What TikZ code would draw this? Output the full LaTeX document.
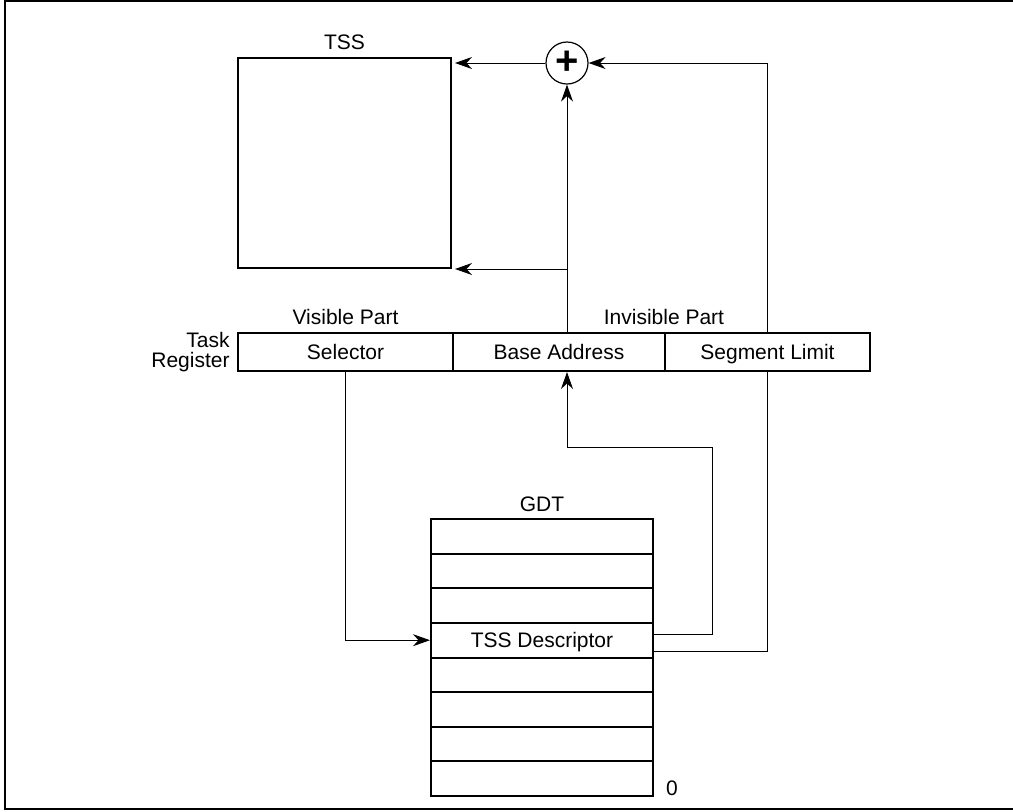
\documentclass[tikz,border=0pt]{standalone}
\usepackage{fontspec}
\setmainfont{Liberation Sans}
\usetikzlibrary{arrows.meta}

\begin{document}
\begin{tikzpicture}[x=0.5pt, y=-0.5pt,
    every node/.style={font=\fontsize{10.5}{12.5}\selectfont, inner sep=0pt},
    caja/.style={draw, line width=1pt, minimum height=19pt, text height=9.2pt, text depth=2.2pt},
    fila/.style={draw, line width=1pt, minimum width=111pt, minimum height=17.3pt, text height=9.2pt, text depth=2.2pt},
    flecha/.style={line width=0.5pt, -{Stealth[length=8.5pt,width=6pt]}},
    linea/.style={line width=0.5pt}]

\useasboundingbox (0,0) rectangle (1013,811);

% Marco
\draw[line width=1pt] (1013,1) -- (5,1) -- (5,809) -- (1013,809);

% TSS y sumador
\node[draw, line width=1pt, minimum width=106.5pt, minimum height=105pt] (tss) at (344.5,163) {};
\node[above=3.5pt] (tsslbl) at (tss.north) {TSS};
\node[draw, circle, line width=0.6pt, minimum size=21pt] (suma) at (567,63) {\fontsize{20}{20}\selectfont\bfseries +};

% Task Register
\node[caja, minimum width=107.5pt] (sel) at (345.5,352) {Selector};
\node[caja, minimum width=106pt] (base) at (559,352) {Base Address};
\node[caja, minimum width=102.5pt] (lim) at (767.5,352) {Segment Limit};
\node[anchor=east, align=right, font=\fontsize{10.5}{10}\selectfont] (treg) at ([xshift=-3.5pt]sel.west) {Task\\Register};
\node[anchor=south] (vis) at ([yshift=3.5pt]sel.north) {Visible Part};
\node[anchor=south] (invis) at ([yshift=3.5pt]lim.north west) {Invisible Part};

% GDT
\foreach \i/\t in {1/{},2/{},3/{},4/TSS Descriptor,5/{},6/{},7/{},8/{}} {
    \node[fila] (gdt\i) at (542, {519+34.625*(\i-0.5)}) {\t};
}
\node[above=2.75pt] (gdtlbl) at (gdt1.north) {GDT};
\node (cero) at (672,788) {0};

% Conexiones
\draw[flecha, shorten >=1.5pt] (suma.west) -- (suma -| tss.east);
\draw[flecha] (lim.north) |- (suma.east);
\draw[flecha] (suma |- base.north) -- (suma.south);
\coordinate (rama) at (suma |- tss.south);
\draw[flecha, shorten >=1.5pt] (rama) -- (tss.south east);
\draw[flecha] (sel.south) |- (gdt4.west);
\coordinate (codo) at (712,447);
\draw[flecha] ([yshift=3pt]gdt4.east) -| (codo) -| (suma |- base.south);
\draw[linea] ([yshift=-5.5pt]gdt4.east) -| (lim.south);

\end{tikzpicture}
\end{document}
